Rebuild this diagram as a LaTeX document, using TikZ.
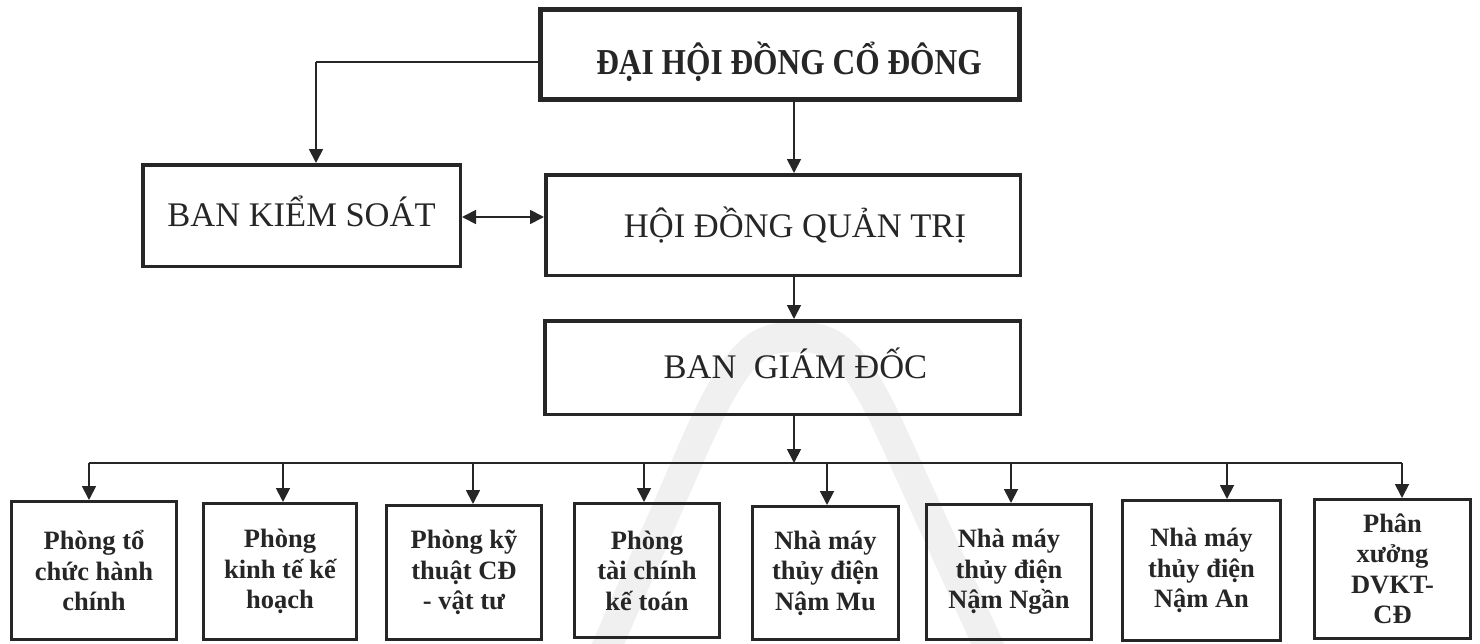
\documentclass[tikz,border=0pt]{standalone}
\usepackage{fontspec}
\setmainfont{Liberation Serif}
\newfontfamily\condserif[FakeStretch=0.86]{Liberation Serif}
\usetikzlibrary{arrows.meta}
\definecolor{ink}{HTML}{262626}
\definecolor{wm}{HTML}{F0F0F0}
\begin{document}
\begin{tikzpicture}[x=1pt,y=-1pt,
  topbox/.style={draw=ink, line width=3.5pt, rectangle, inner sep=0pt, text=ink,
    font=\fontsize{34.5}{40}\selectfont},
  unitbox/.style={draw=ink, line width=3pt, rectangle, inner sep=0pt, align=center, text=ink,
    font=\bfseries\fontsize{26.5}{30.5}\selectfont},
  conn/.style={draw=ink, line width=1.8pt},
  arr/.style={conn, -{Triangle[length=14pt,width=14pt]}},
  arrtwo/.style={conn, {Triangle[length=14pt,width=14pt]}-{Triangle[length=14pt,width=14pt]}}
]
\useasboundingbox (0,0) rectangle (1480,643);
% watermark
\draw[wm, line width=30pt] (601,660) -- (697,440) .. controls (740,345) and (760,337) .. (796,337)
   .. controls (832,337) and (852,345) .. (895,440) -- (995,660);
% top level
\node[topbox, line width=5pt, minimum width=479pt, minimum height=90pt, text height=39pt, text depth=0pt,
  font=\condserif\bfseries\fontsize{36.5}{40}\selectfont] (dh) at (780,54.5)
  {\hspace*{18pt}ĐẠI HỘI ĐỒNG CỔ ĐÔNG};
\node[topbox, minimum width=317.5pt, minimum height=101.5pt, text height=21pt, text depth=0pt] (bks) at (301.5,215.5)
  {BAN KIỂM SOÁT};
\node[topbox, minimum width=474.5pt, minimum height=100.5pt, text height=24pt, text depth=0pt] (hd) at (783,225)
  {\hspace*{24pt}HỘI ĐỒNG QUẢN TRỊ};
\node[topbox, minimum width=475.5pt, minimum height=93.5pt, text height=21pt, text depth=0pt] (bgd) at (782.5,367.5)
  {\hspace*{26pt}BAN\ \ GIÁM ĐỐC};
% units
\node[unitbox, minimum width=165pt, minimum height=138pt] (b1) at (94,570.5) {Phòng tổ\\chức hành\\chính};
\node[unitbox, minimum width=153pt, minimum height=136pt] (b2) at (280,571.5) {Phòng\\kinh tế kế\\hoạch};
\node[unitbox, minimum width=155pt, minimum height=134pt] (b3) at (464,572.5) {Phòng kỹ\\thuật CĐ\\- vật tư};
\node[unitbox, minimum width=145pt, minimum height=134pt] (b4) at (647,570.5) {Phòng\\tài chính\\kế toán};
\node[unitbox, minimum width=146pt, minimum height=133pt] (b5) at (825.5,573) {Nhà máy\\thủy điện\\Nậm Mu};
\node[unitbox, minimum width=165pt, minimum height=135pt] (b6) at (1009,572) {Nhà máy\\thủy điện\\Nậm Ngần};
\node[unitbox, minimum width=158pt, minimum height=140pt] (b7) at (1201.5,570.5) {Nhà máy\\thủy điện\\Nậm An};
\node[unitbox, minimum width=156pt, minimum height=139pt] (b8) at (1392.5,569) {Phân\\xưởng\\DVKT-\\CĐ};
% connectors
\coordinate (k1) at (316,62);
\draw[conn] (dh.west |- k1) -- (k1);
\draw[arr] (k1) -- (bks.north -| k1);
\coordinate (cx) at (794,0);
\draw[arr] (dh.south -| cx) -- (hd.north -| cx);
\draw[arr] (hd.south -| cx) -- (bgd.north -| cx);
\coordinate (m) at (500,217);
\draw[arrtwo] (bks.east |- m) -- (hd.west |- m);
\coordinate (busL) at (89,463);
\coordinate (busR) at (1402,463);
\draw[conn] (busL) -- (busR);
\draw[arr] (bgd.south -| cx) -- (cx |- busL);
\coordinate (t1) at (89,463);
\coordinate (t2) at (283,463);
\coordinate (t3) at (473,463);
\coordinate (t4) at (644,463);
\coordinate (t5) at (827,463);
\coordinate (t6) at (1011,463);
\coordinate (t7) at (1227,463);
\coordinate (t8) at (1402,463);
\draw[arr] (t1) -- (t1 |- b1.north);
\draw[arr] (t2) -- (t2 |- b2.north);
\draw[arr] (t3) -- (t3 |- b3.north);
\draw[arr] (t4) -- (t4 |- b4.north);
\draw[arr] (t5) -- (t5 |- b5.north);
\draw[arr] (t6) -- (t6 |- b6.north);
\draw[arr] (t7) -- (t7 |- b7.north);
\draw[arr] (t8) -- (t8 |- b8.north);
\end{tikzpicture}
\end{document}
